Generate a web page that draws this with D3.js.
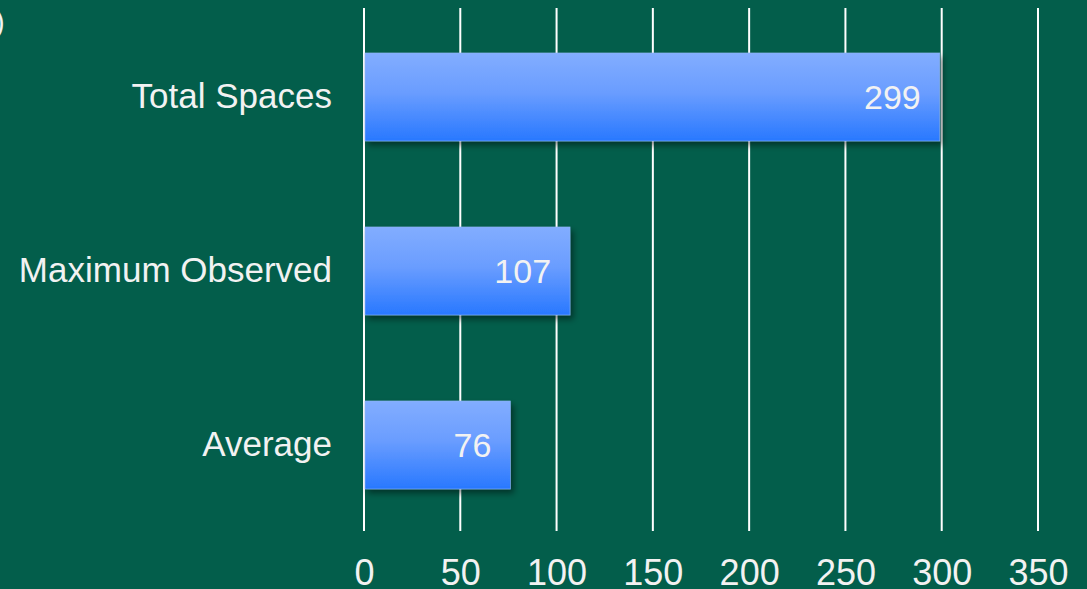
<!DOCTYPE html>
<html>
<head>
<meta charset="utf-8">
<script src="https://cdn.jsdelivr.net/npm/d3@7"></script>
<style>
  html, body { margin: 0; padding: 0; background: #035E4B; overflow: hidden; }
  svg { display: block; }
  text { font-family: "Liberation Sans", Arial, sans-serif; }
</style>
</head>
<body>
<svg id="chart" width="1087" height="589"></svg>
<script>
const categories = ["Total Spaces", "Maximum Observed", "Average"];
const values = [299, 107, 76];
const xTicks = [0, 50, 100, 150, 200, 250, 300, 350];

const W = 1087, H = 589;
const FS = 35;
const svg = d3.select("#chart");
svg.append("rect").attr("width", W).attr("height", H).attr("fill", "#035E4B");

const defs = svg.append("defs");
const grad = defs.append("linearGradient").attr("id", "barGrad")
  .attr("x1", 0).attr("y1", 0).attr("x2", 0).attr("y2", 1);
grad.append("stop").attr("offset", "0%").attr("stop-color", "#82adff");
grad.append("stop").attr("offset", "45%").attr("stop-color", "#6a9dff");
grad.append("stop").attr("offset", "100%").attr("stop-color", "#2878ff");
const filt = defs.append("filter").attr("id", "shadow")
  .attr("x", "-10%").attr("y", "-10%").attr("width", "130%").attr("height", "140%");
filt.append("feDropShadow").attr("dx", 3).attr("dy", 4).attr("stdDeviation", 3)
  .attr("flood-color", "#000").attr("flood-opacity", 0.45);

const x = d3.scaleLinear().domain([0, 350]).range([364, 1038]);
const y = d3.scaleBand().domain(categories).range([10, 532])
  .paddingInner(0.494).paddingOuter(0.247);

// gridlines
svg.append("g").selectAll("line").data(xTicks).join("line")
  .attr("x1", d => x(d)).attr("x2", d => x(d))
  .attr("y1", 8).attr("y2", 531)
  .attr("stroke", "#ffffff").attr("stroke-width", 2);

// bars
svg.append("g").selectAll("rect").data(values).join("rect")
  .attr("x", x(0) + 1)
  .attr("y", (d, i) => y(categories[i]))
  .attr("width", d => x(d) - x(0) - 1)
  .attr("height", y.bandwidth())
  .attr("fill", "url(#barGrad)")
  .attr("stroke", "#8fb4f0").attr("stroke-width", 0.6)
  .attr("filter", "url(#shadow)");

// value labels
svg.append("g").selectAll("text").data(values).join("text")
  .attr("x", d => x(d) - 19)
  .attr("y", (d, i) => y(categories[i]) + y.bandwidth() / 2)
  .attr("dy", "0.36em")
  .attr("text-anchor", "end")
  .attr("fill", "#f2f2f2")
  .attr("font-size", 34)
  .text(d => d);

// category axis
const yAxis = d3.axisLeft(y).tickSize(0).tickPadding(32);
const gy = svg.append("g").attr("transform", `translate(${x(0)},0)`).call(yAxis);
gy.select(".domain").remove();
gy.selectAll("text").attr("fill", "#f2f2f2").attr("font-size", FS)
  .attr("font-family", '"Liberation Sans", Arial, sans-serif');

// x axis
const xAxis = d3.axisBottom(x).tickValues(xTicks).tickSize(0).tickPadding(0);
const gx = svg.append("g").attr("transform", `translate(0,559)`).call(xAxis);
gx.select(".domain").remove();
gx.selectAll("text").attr("fill", "#f2f2f2").attr("font-size", 36)
  .attr("font-family", '"Liberation Sans", Arial, sans-serif');

// cropped fragment at top-left
svg.append("text").attr("x", -5).attr("y", 32).attr("fill", "#f2f2f2")
  .attr("font-size", 29).text(")");
</script>
</body>
</html>
